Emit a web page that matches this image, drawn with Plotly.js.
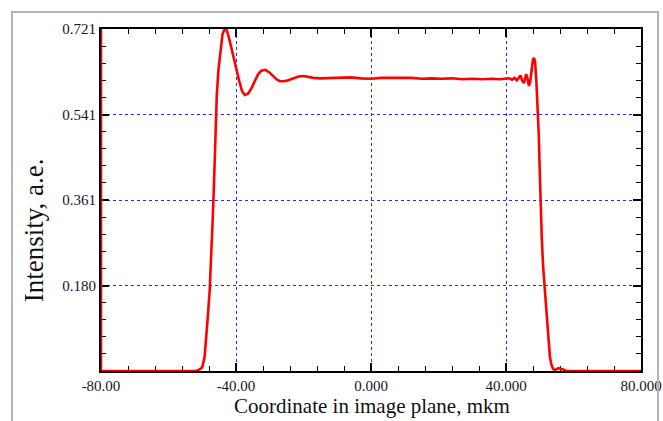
<!DOCTYPE html>
<html>
<head>
<meta charset="utf-8">
<script src="https://cdn.plot.ly/plotly-3.0.1.min.js"></script>
<style>
  html, body { margin: 0; padding: 0; background: #ffffff; }
  #wrap { position: relative; width: 663px; height: 421px; overflow: hidden; }
  #frame { position: absolute; left: 11px; top: 11px; width: 648px; height: 420px;
           border: 2px solid #b4b4b4; border-bottom: none; box-sizing: border-box; pointer-events: none; z-index: 5; }
  #chart { position: absolute; left: 0; top: 0; width: 663px; height: 421px; }
</style>
</head>
<body>
<div id="wrap">
  <div id="chart"></div>
  <div id="frame"></div>
</div>
<script>
// Coordinate in image plane, mkm
const xCoord = [
  -80, -80, -60, -52, -51, -50, -49.3, -48.8, -48.3, -47.8, -47.3, -46.9, -46.5, -46.1, -45.7,
  -45.2, -44.6, -44.0, -43.3, -42.7, -42.0, -41.3, -40.6, -39.8, -39.0, -38.2, -37.4, -36.5,
  -35.5, -34.5, -33.5, -32.5, -31.3, -30.2, -29.0, -28.0, -27.0, -25.8, -24.5, -23.0, -21.5,
  -20.0, -18.5, -17.0, -15.0, -12.0, -9.0, -6.0, -3.0, 0.0, 3.0, 6.0, 9.0, 12.0, 15.0, 18.0,
  21.0, 24.0, 27.0, 30.0, 33.0, 36.0, 38.0, 40.0, 41.0, 41.8, 42.5, 43.2, 43.8, 44.3, 44.8,
  45.3, 45.7, 46.0, 46.4, 46.8, 47.2, 47.6, 48.0, 48.3, 48.6, 49.0, 49.4, 49.7, 50.0, 50.2,
  50.6, 51.0, 51.5, 52.0, 52.5, 53.0, 53.5, 54.0, 54.5, 55.5, 56.5, 57.5, 58.0, 70.0, 80.0
];
// Intensity, a.e.
const intensity = [
  0.721, 0, 0, 0, 0.002, 0.008, 0.03, 0.07, 0.12, 0.17, 0.24, 0.32, 0.40, 0.50, 0.58,
  0.635, 0.68, 0.71, 0.722, 0.718, 0.70, 0.678, 0.655, 0.635, 0.610, 0.590, 0.582, 0.584,
  0.595, 0.610, 0.625, 0.633, 0.635, 0.630, 0.622, 0.615, 0.611, 0.611, 0.613, 0.617, 0.621,
  0.622, 0.620, 0.618, 0.617, 0.618, 0.619, 0.619, 0.617, 0.616, 0.618, 0.618, 0.617, 0.618, 0.616, 0.617,
  0.616, 0.617, 0.615, 0.616, 0.615, 0.616, 0.615, 0.616, 0.617, 0.614, 0.618, 0.613, 0.620,
  0.623, 0.612, 0.607, 0.618, 0.626, 0.615, 0.601, 0.612, 0.640, 0.657, 0.660, 0.652, 0.61,
  0.56, 0.50, 0.42, 0.36, 0.28, 0.22, 0.17, 0.11, 0.06, 0.03, 0.012, 0.004, 0.002, 0.006,
  0.004, 0.001, 0, 0, 0
];
const xTickVals = [-80, -40, 0, 40, 80];
const xTickText = ["-80.00", "-40.00", "0.000", "40.000", "80.000"];
const yTickVals = [0.18025, 0.3605, 0.54075, 0.721];
const yTickText = ["0.180", "0.361", "0.541", "0.721"];
const xTitle = "Coordinate in image plane, mkm";
const yTitle = "Intensity, a.e.";

const serif = "Liberation Serif, Times New Roman, serif";
const tickFont = { family: serif, size: 15, color: "#14142a" };

const trace = {
  x: xCoord, y: intensity, type: "scatter", mode: "lines",
  line: { color: "#ff0000", width: 2.6 },
  hoverinfo: "skip"
};

const layout = {
  width: 663, height: 421,
  margin: { l: 101, r: 22, t: 29, b: 50 },
  paper_bgcolor: "#ffffff", plot_bgcolor: "#ffffff",
  showlegend: false,
  font: { family: serif, size: 15, color: "#14142a" },
  xaxis: {
    range: [-80, 80], tickmode: "array", tickvals: xTickVals, ticktext: xTickText,
    ticks: "inside", ticklen: 8, tickwidth: 2, tickcolor: "#000",
    mirror: "ticks", showline: true, linecolor: "#000", linewidth: 2,
    showgrid: true, gridcolor: "#2a2aff", gridwidth: 1, griddash: "dot",
    zeroline: false, layer: "below traces",
    tickfont: tickFont,
    minor: { tickmode: "linear", tick0: -80, dtick: 8, ticks: "inside", ticklen: 5, tickwidth: 1, tickcolor: "#000", showgrid: false }
  },
  yaxis: {
    range: [0, 0.721], tickmode: "array", tickvals: yTickVals, ticktext: yTickText,
    ticks: "inside", ticklen: 8, tickwidth: 2, tickcolor: "#000",
    mirror: "ticks", showline: true, linecolor: "#000", linewidth: 2,
    showgrid: true, gridcolor: "#2a2aff", gridwidth: 1, griddash: "dot",
    zeroline: false, layer: "below traces",
    tickfont: tickFont,
    minor: { tickmode: "linear", tick0: 0, dtick: 0.03605, ticks: "inside", ticklen: 5, tickwidth: 1, tickcolor: "#000", showgrid: false }
  },
  annotations: [
    { text: xTitle, xref: "paper", yref: "paper", x: 0.502, y: -0.102, xanchor: "center", yanchor: "middle",
      showarrow: false, font: { family: serif, size: 21, color: "#111" } },
    { text: yTitle, xref: "paper", yref: "paper", x: -0.124, y: 0.412, xanchor: "center", yanchor: "middle",
      textangle: -90, showarrow: false, font: { family: serif, size: 27, color: "#111" } }
  ]
};

Plotly.newPlot("chart", [trace], layout, { displayModeBar: false, staticPlot: true });
</script>
</body>
</html>
